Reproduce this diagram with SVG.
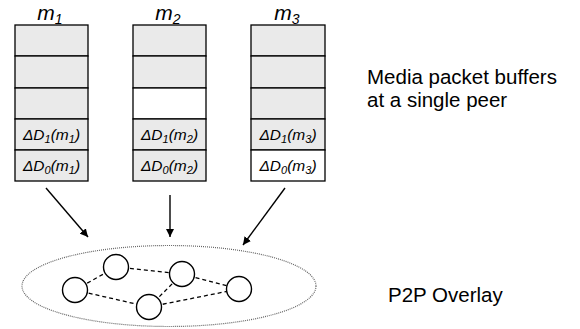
<svg xmlns="http://www.w3.org/2000/svg" width="580" height="329" viewBox="0 0 580 329">
<style>
.cell{stroke:#000;stroke-width:1.3;}
.g{fill:#eaeaea;}
.w{fill:#fff;}
.lbl{font-family:"Liberation Sans",Arial,sans-serif;font-style:italic;font-size:15.5px;fill:#000;text-anchor:middle;}
.sub{font-size:11px;}
.hd{font-family:"Liberation Sans",Arial,sans-serif;font-style:italic;font-size:21px;fill:#000;text-anchor:middle;}
.txt{font-family:"Liberation Sans",Arial,sans-serif;font-size:20.5px;fill:#000;}
.peer{fill:#fff;stroke:#000;stroke-width:1.4;}
.link{stroke:#000;stroke-width:1.3;stroke-dasharray:4,3;fill:none;}
.arr{stroke:#000;stroke-width:1.4;fill:none;marker-end:url(#ah);}
</style>
<defs>
<marker id="ah" viewBox="0 0 10 10" refX="10" refY="5" markerWidth="8" markerHeight="8" markerUnits="userSpaceOnUse" orient="auto">
<path d="M0,0 L10,5 L0,10 z" fill="#000"/>
</marker>
</defs>

<g id="buffer-m1">
<text class="hd" x="50" y="20">m<tspan font-size="14" dy="4">1</tspan></text>
<rect class="cell g" x="15" y="25" width="73" height="31"/>
<rect class="cell g" x="15" y="56" width="73" height="32"/>
<rect class="cell g" x="15" y="88" width="73" height="31"/>
<rect class="cell g" x="15" y="119" width="73" height="31"/>
<rect class="cell g" x="15" y="150" width="73" height="31"/>
<text class="lbl" x="51.5" y="140">ΔD<tspan class="sub" dy="3">1</tspan><tspan dy="-3">(m</tspan><tspan class="sub" dy="3">1</tspan><tspan dy="-3">)</tspan></text>
<text class="lbl" x="51.5" y="171">ΔD<tspan class="sub" dy="3">0</tspan><tspan dy="-3">(m</tspan><tspan class="sub" dy="3">1</tspan><tspan dy="-3">)</tspan></text>
</g>

<g id="buffer-m2">
<text class="hd" x="168" y="20">m<tspan font-size="14" dy="4">2</tspan></text>
<rect class="cell g" x="133" y="25" width="73" height="31"/>
<rect class="cell g" x="133" y="56" width="73" height="32"/>
<rect class="cell w" x="133" y="88" width="73" height="31"/>
<rect class="cell g" x="133" y="119" width="73" height="31"/>
<rect class="cell g" x="133" y="150" width="73" height="31"/>
<text class="lbl" x="169.5" y="140">ΔD<tspan class="sub" dy="3">1</tspan><tspan dy="-3">(m</tspan><tspan class="sub" dy="3">2</tspan><tspan dy="-3">)</tspan></text>
<text class="lbl" x="169.5" y="171">ΔD<tspan class="sub" dy="3">0</tspan><tspan dy="-3">(m</tspan><tspan class="sub" dy="3">2</tspan><tspan dy="-3">)</tspan></text>
</g>

<g id="buffer-m3">
<text class="hd" x="287" y="20">m<tspan font-size="14" dy="4">3</tspan></text>
<rect class="cell g" x="251" y="25" width="74" height="31"/>
<rect class="cell g" x="251" y="56" width="74" height="32"/>
<rect class="cell g" x="251" y="88" width="74" height="31"/>
<rect class="cell g" x="251" y="119" width="74" height="31"/>
<rect class="cell w" x="251" y="150" width="74" height="31"/>
<text class="lbl" x="288" y="140">ΔD<tspan class="sub" dy="3">1</tspan><tspan dy="-3">(m</tspan><tspan class="sub" dy="3">3</tspan><tspan dy="-3">)</tspan></text>
<text class="lbl" x="288" y="171">ΔD<tspan class="sub" dy="3">0</tspan><tspan dy="-3">(m</tspan><tspan class="sub" dy="3">3</tspan><tspan dy="-3">)</tspan></text>
</g>

<g id="caption-buffers">
<text class="txt" x="367" y="84">Media packet buffers</text>
<text class="txt" x="367" y="107">at a single peer</text>
</g>

<g id="overlay">
<ellipse cx="169" cy="286" rx="147" ry="40.5" fill="none" stroke="#666" stroke-width="1.2" stroke-dasharray="1,1"/>
</g>

<g id="connectors">
<line class="arr" x1="46" y1="188" x2="88" y2="237"/>
<line class="arr" x1="170" y1="195" x2="170" y2="237"/>
<line class="arr" x1="285" y1="188" x2="243" y2="245"/>
<line class="link" x1="75" y1="290" x2="116" y2="267"/>
<line class="link" x1="75" y1="290" x2="149" y2="307"/>
<line class="link" x1="116" y1="267" x2="182" y2="274"/>
<line class="link" x1="182" y1="274" x2="149" y2="307"/>
<line class="link" x1="182" y1="274" x2="239" y2="289"/>
<line class="link" x1="149" y1="307" x2="239" y2="289"/>
</g>

<g id="peer1"><circle class="peer" cx="75" cy="290" r="12.5"/></g>
<g id="peer2"><circle class="peer" cx="116" cy="267" r="12.5"/></g>
<g id="peer3"><circle class="peer" cx="182" cy="274" r="12.5"/></g>
<g id="peer4"><circle class="peer" cx="149" cy="307" r="12.5"/></g>
<g id="peer5"><circle class="peer" cx="239" cy="289" r="12.5"/></g>

<g id="caption-overlay">
<text class="txt" x="388" y="302">P2P Overlay</text>
</g>
</svg>
